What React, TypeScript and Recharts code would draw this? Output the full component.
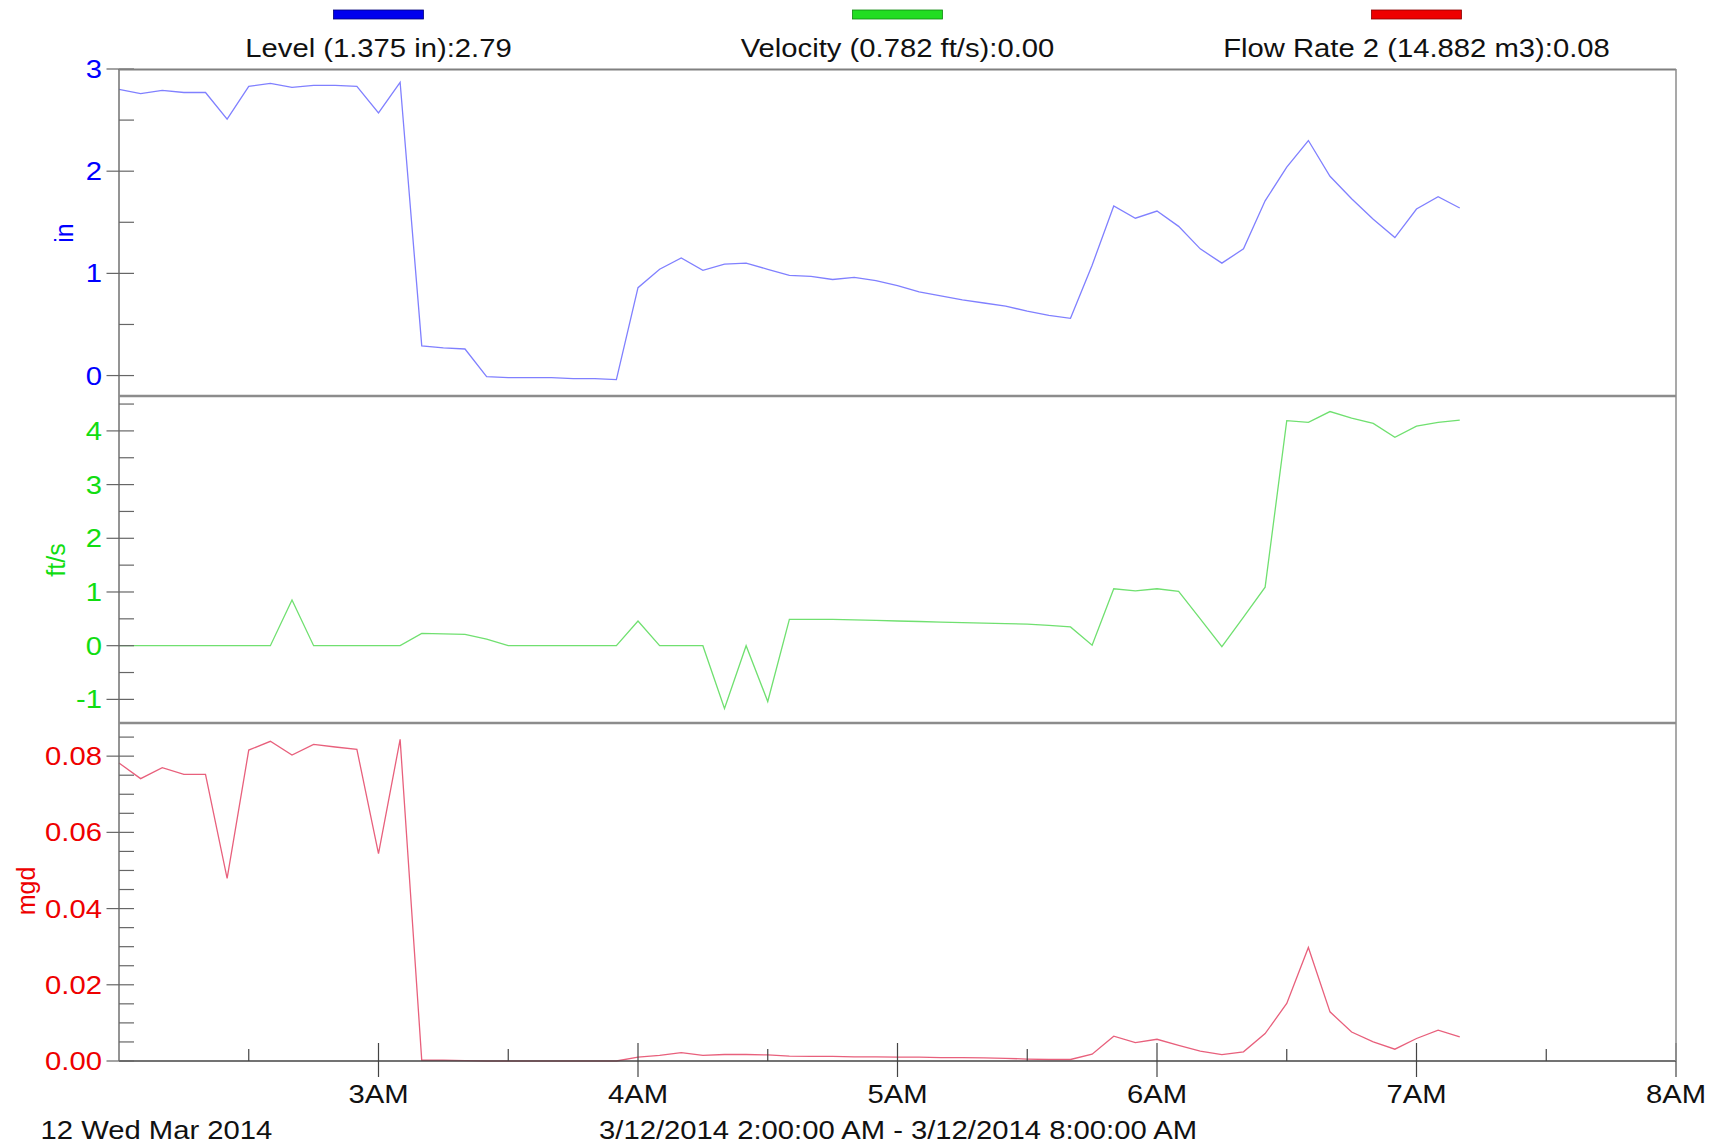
import { LineChart, Line, XAxis, YAxis } from 'recharts';

// minutes after 2:00 AM, one reading every 5 minutes
const minutes = [
  0, 5, 10, 15, 20, 25, 30, 35, 40, 45, 50, 55, 60, 65, 70, 75, 80, 85, 90, 95, 100,
  105, 110, 115, 120, 125, 130, 135, 140, 145, 150, 155, 160, 165, 170, 175, 180,
  185, 190, 195, 200, 205, 210, 215, 220, 225, 230, 235, 240, 245, 250, 255, 260,
  265, 270, 275, 280, 285, 290, 295, 300, 305, 310,
];

const level = [
  2.8, 2.76, 2.79, 2.77, 2.77, 2.51, 2.83, 2.86, 2.82, 2.84, 2.84, 2.83, 2.57, 2.87,
  0.29, 0.27, 0.26, -0.01, -0.02, -0.02, -0.02, -0.03, -0.03, -0.04, 0.86, 1.04, 1.15,
  1.03, 1.09, 1.1, 1.04, 0.98, 0.97, 0.94, 0.96, 0.93, 0.88, 0.82, 0.78, 0.74, 0.71,
  0.68, 0.63, 0.59, 0.56, 1.08, 1.66, 1.54, 1.61, 1.46, 1.24, 1.1, 1.24, 1.71, 2.04,
  2.3, 1.95, 1.73, 1.53, 1.35, 1.63, 1.75, 1.64,
];

const velocity = [
  0, 0, 0, 0, 0, 0, 0, 0, 0.85, 0, 0, 0, 0, 0, 0.23, 0.22, 0.21, 0.12, 0, 0, 0, 0, 0,
  0, 0.46, 0, 0, 0, -1.17, 0, -1.04, 0.49, 0.49, 0.49, 0.48, 0.47, 0.46, 0.45, 0.44,
  0.43, 0.42, 0.41, 0.4, 0.38, 0.35, 0.01, 1.06, 1.02, 1.06, 1.01, 0.5, -0.02, 0.53,
  1.09, 4.19, 4.16, 4.36, 4.24, 4.14, 3.88, 4.09, 4.16, 4.2,
];

const flow = [
  0.0782, 0.0741, 0.077, 0.0752, 0.0752, 0.0479, 0.0816, 0.0839, 0.0803, 0.0831,
  0.0824, 0.0818, 0.0544, 0.0844, 0.0002, 0.0002, 0.0001, 0, 0, 0, 0, 0, 0, 0, 0.001,
  0.0015, 0.0022, 0.0015, 0.0017, 0.0017, 0.0016, 0.0013, 0.0012, 0.0012, 0.0011,
  0.0011, 0.001, 0.001, 0.0009, 0.0009, 0.0008, 0.0007, 0.0005, 0.0004, 0.0004,
  0.0018, 0.0065, 0.0048, 0.0057, 0.0041, 0.0026, 0.0017, 0.0024, 0.0072, 0.0151,
  0.0298, 0.0129, 0.0076, 0.005, 0.0031, 0.0059, 0.0081, 0.0063,
];

const hourLabels = ['2AM', '3AM', '4AM', '5AM', '6AM', '7AM', '8AM'];
const xTicks = [30, 60, 90, 120, 150, 180, 210, 240, 270, 300, 330, 360];

const levelTicks = [0, 0.5, 1, 1.5, 2, 2.5, 3];
const velocityTicks = [-1, -0.5, 0, 0.5, 1, 1.5, 2, 2.5, 3, 3.5, 4, 4.5];
const flowTicks = [
  0, 0.005, 0.01, 0.015, 0.02, 0.025, 0.03, 0.035, 0.04, 0.045, 0.05, 0.055, 0.06,
  0.065, 0.07, 0.075, 0.08, 0.085,
];

const legendItems = [
  { name: 'Level (1.375 in):2.79', color: '#0000ee', edge: '#00007a' },
  { name: 'Velocity (0.782 ft/s):0.00', color: '#22dd22', edge: '#118811' },
  { name: 'Flow Rate 2 (14.882 m3):0.08', color: '#ee0000', edge: '#880000' },
];

const rows = minutes.map((t, i) => ({
  t,
  level: level[i],
  velocity: velocity[i],
  flow: flow[i],
}));

const FONT = '"Liberation Sans", Arial, sans-serif';
const FS = 25;
const SX = 1.17;
const LEFT = 119;
const RIGHT = 1676;

function YTick(props: any) {
  const { x, y, payload, color, isMajor, fmt } = props;
  const v = payload.value;
  const major = isMajor(v);
  return (
    <g>
      <line x1={major ? x - 12.5 : x} x2={x + 15} y1={y} y2={y} stroke="#666" strokeWidth={1.2} />
      {major && (
        <text
          transform={`translate(${x - 17},${y + 9}) scale(${SX},1)`}
          textAnchor="end"
          fill={color}
          fontSize={FS}
          fontFamily={FONT}
        >
          {fmt(v)}
        </text>
      )}
    </g>
  );
}

function XTick(props: any) {
  const { x, y, payload } = props;
  const v = payload.value;
  const major = v % 60 === 0;
  return (
    <g>
      <line x1={x} x2={x} y1={y - (major ? 18 : 12)} y2={y + (major ? 16 : 0)} stroke="#444" strokeWidth={1.2} />
      {major && (
        <text
          transform={`translate(${x},${y + 42}) scale(${SX},1)`}
          textAnchor="middle"
          fill="#111"
          fontSize={FS}
          fontFamily={FONT}
        >
          {hourLabels[v / 60]}
        </text>
      )}
    </g>
  );
}

const isWhole = (v: number) => Math.abs(v - Math.round(v)) < 1e-9;
const isFlowMajor = (v: number) => Math.abs(v * 50 - Math.round(v * 50)) < 1e-6;

export default function App() {
  const axisLine = { stroke: '#707070', strokeWidth: 1.5 };
  return (
    <div
      style={{
        position: 'absolute',
        left: 0,
        top: 0,
        width: 1720,
        height: 1147,
        background: '#fff',
        fontFamily: FONT,
      }}
    >
      <div style={{ position: 'absolute', left: 0, top: 0 }}>
        <LineChart width={1720} height={396} data={rows} margin={{ top: 69, right: 44, bottom: 0, left: 0 }}>
          <XAxis dataKey="t" type="number" domain={[0, 360]} hide />
          <YAxis
            width={LEFT}
            type="number"
            domain={[-0.2, 3]}
            ticks={levelTicks}
            interval={0}
            tickSize={0}
            tickMargin={0}
            tickLine={false}
            axisLine={axisLine}
            tick={(p: any) => <YTick {...p} color="#0000ff" isMajor={isWhole} fmt={(v: number) => String(v)} />}
          />
          <Line type="linear" dataKey="level" stroke="#8080ff" strokeWidth={1.3} dot={false} isAnimationActive={false} />
        </LineChart>
      </div>

      <div style={{ position: 'absolute', left: 0, top: 376 }}>
        <LineChart width={1720} height={347} data={rows} margin={{ top: 20, right: 44, bottom: 0, left: 0 }}>
          <XAxis dataKey="t" type="number" domain={[0, 360]} hide />
          <YAxis
            width={LEFT}
            type="number"
            domain={[-1.44, 4.65]}
            ticks={velocityTicks}
            interval={0}
            tickSize={0}
            tickMargin={0}
            tickLine={false}
            axisLine={axisLine}
            tick={(p: any) => <YTick {...p} color="#11dd11" isMajor={isWhole} fmt={(v: number) => String(v)} />}
          />
          <Line type="linear" dataKey="velocity" stroke="#70e070" strokeWidth={1.3} dot={false} isAnimationActive={false} />
        </LineChart>
      </div>

      <div style={{ position: 'absolute', left: 0, top: 703 }}>
        <LineChart width={1720} height={444} data={rows} margin={{ top: 20, right: 44, bottom: 0, left: 0 }}>
          <XAxis
            dataKey="t"
            type="number"
            domain={[0, 360]}
            ticks={xTicks}
            interval={0}
            height={86}
            tickSize={0}
            tickMargin={0}
            tickLine={false}
            axisLine={{ stroke: '#444', strokeWidth: 1.3 }}
            tick={(p: any) => <XTick {...p} />}
          />
          <YAxis
            width={LEFT}
            type="number"
            domain={[0, 0.0887]}
            ticks={flowTicks}
            interval={0}
            tickSize={0}
            tickMargin={0}
            tickLine={false}
            axisLine={axisLine}
            tick={(p: any) => <YTick {...p} color="#ee0000" isMajor={isFlowMajor} fmt={(v: number) => v.toFixed(2)} />}
          />
          <Line type="linear" dataKey="flow" stroke="#e8607c" strokeWidth={1.3} dot={false} isAnimationActive={false} />
        </LineChart>
      </div>

      <svg
        width={1720}
        height={1147}
        style={{ position: 'absolute', left: 0, top: 0, pointerEvents: 'none' }}
        fontFamily={FONT}
      >
        {/* frame */}
        <line x1={LEFT} x2={RIGHT} y1={69.5} y2={69.5} stroke="#808080" strokeWidth={2} />
        <line x1={LEFT} x2={RIGHT} y1={396} y2={396} stroke="#8c8c8c" strokeWidth={2.5} />
        <line x1={LEFT} x2={RIGHT} y1={723} y2={723} stroke="#8c8c8c" strokeWidth={2.5} />
        <line x1={RIGHT} x2={RIGHT} y1={69} y2={1061} stroke="#8c8c8c" strokeWidth={1.5} />

        {/* legend */}
        {legendItems.map((it, i) => {
          const cx = LEFT + ((RIGHT - LEFT) / 3) * (i + 0.5);
          return (
            <g key={it.name}>
              <rect x={cx - 45} y={10} width={90} height={9} fill={it.color} stroke={it.edge} strokeWidth={0.8} />
              <text
                transform={`translate(${cx},57) scale(${SX},1)`}
                textAnchor="middle"
                fontSize={FS}
                fill="#111"
              >
                {it.name}
              </text>
            </g>
          );
        })}

        {/* axis titles */}
        <text transform="translate(64,233) rotate(-90)" textAnchor="middle" dy="0.35em" fontSize={FS} fill="#0000ff">
          in
        </text>
        <text transform="translate(56,560) rotate(-90)" textAnchor="middle" dy="0.35em" fontSize={FS} fill="#11dd11">
          ft/s
        </text>
        <text transform="translate(26,891) rotate(-90)" textAnchor="middle" dy="0.35em" fontSize={FS} fill="#ee0000">
          mgd
        </text>

        {/* footer */}
        <text transform={`translate(40.5,1139) scale(${SX},1)`} fontSize={FS} fill="#111">
          12 Wed Mar 2014
        </text>
        <text transform={`translate(898,1139) scale(${SX},1)`} textAnchor="middle" fontSize={FS} fill="#111">
          3/12/2014 2:00:00 AM - 3/12/2014 8:00:00 AM
        </text>
      </svg>
    </div>
  );
}
